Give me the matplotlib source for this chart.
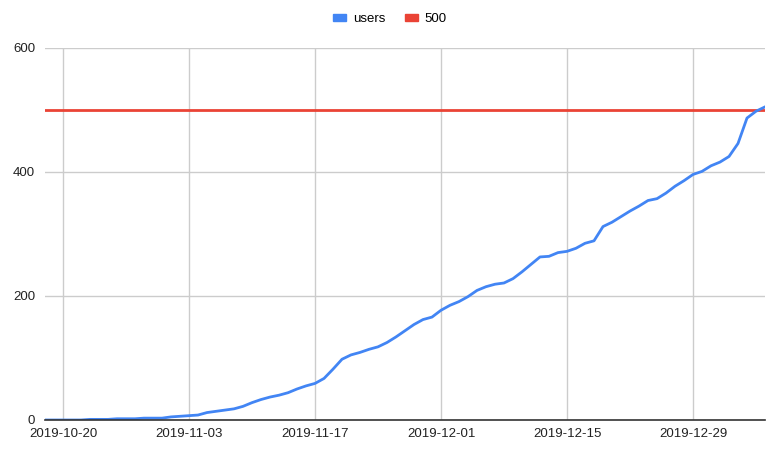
import matplotlib
matplotlib.use("Agg")
import matplotlib.pyplot as plt
import matplotlib.dates as mdates
import matplotlib.patches as mpatches
import pandas as pd

plt.rcParams['font.family'] = ['Liberation Sans', 'DejaVu Sans']

# daily user counts, 2019-10-18 .. 2020-01-06
dates = pd.date_range('2019-10-18', '2020-01-06', freq='D')
users = [0, 0, 0, 0, 0, 1, 1, 1, 2, 2,
         2, 3, 3, 3, 5, 6, 7, 8, 12, 14,
         16, 18, 22, 28, 33, 37, 40, 44, 50, 55,
         59, 67, 82, 98, 105, 109, 114, 118, 125, 134,
         144, 154, 162, 166, 177, 185, 191, 199, 209, 215,
         219, 221, 228, 239, 251, 263, 264, 270, 272, 277,
         285, 289, 312, 319, 328, 337, 345, 354, 357, 366,
         377, 386, 396, 401, 410, 416, 425, 446, 487, 498,
         505]
target = [500] * len(dates)

tick_dates = pd.date_range('2019-10-20', '2019-12-29', freq='14D')
y_ticks = [0, 200, 400, 600]

blue = '#4285F4'
red = '#EA4335'

fig = plt.figure(figsize=(7.83, 4.53), dpi=100)
ax = fig.add_axes([45 / 783, 33 / 453, 720 / 783, 372 / 453])

ax.plot(dates, users, color=blue, lw=2, zorder=3)
ax.plot(dates, target, color=red, lw=2, zorder=2)

ax.set_xlim(dates[0], dates[-1])
ax.set_ylim(0, 600)
ax.set_yticks(y_ticks)
ax.set_xticks(tick_dates)
ax.xaxis.set_major_formatter(mdates.DateFormatter('%Y-%m-%d'))

ax.grid(True, color='#cccccc', lw=1)
ax.set_axisbelow(True)
for s in ['top', 'right', 'left']:
    ax.spines[s].set_visible(False)
ax.spines['bottom'].set_color('#333333')
ax.spines['bottom'].set_linewidth(1.2)
ax.spines['bottom'].set_zorder(4)
ax.tick_params(length=0, labelsize=9.5, colors='#222222')
ax.tick_params(axis='x', pad=6)
ax.tick_params(axis='y', pad=7)

handles = [mpatches.Patch(color=blue, label='users'),
           mpatches.Patch(color=red, label='500')]
fig.legend(handles=handles, loc='center', bbox_to_anchor=(390 / 783, 1 - 19 / 453),
           ncol=2, frameon=False, fontsize=9.5, handlelength=1.0, handleheight=0.45,
           handletextpad=0.5, columnspacing=1.5)

fig.savefig('out.png', dpi=100)
